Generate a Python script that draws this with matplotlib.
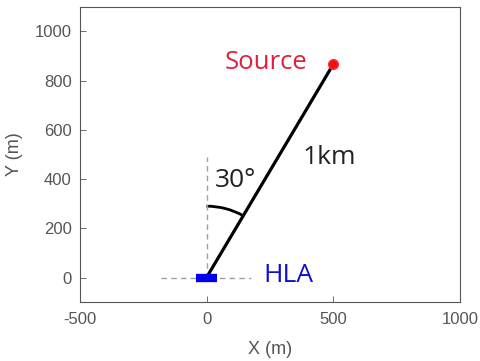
import matplotlib.pyplot as plt
import numpy as np
from matplotlib.patches import Arc

# geometry of the source / array layout
source_range = 1000.0
source_angle_deg = 30.0
array_x = [-40, 40]
array_y = [0, 0]
guide_vx = [0, 0]
guide_vy = [0, 490]
guide_hx = [-180, 175]
guide_hy = [0, 0]
arc_radius = 290

x_ticks = [-500, 0, 500, 1000]
y_ticks = [0, 200, 400, 600, 800, 1000]

theta = np.deg2rad(source_angle_deg)
src_x = source_range * np.sin(theta)
src_y = source_range * np.cos(theta)

fig = plt.figure(figsize=(4.81, 3.61), dpi=100)
ax = fig.add_axes([0.166, 0.163, 0.790, 0.818])

tick_color = "#555555"
label_font = ["Liberation Sans", "DejaVu Sans"]
note_font = ["Open Sans", "DejaVu Sans"]

# dashed guides through the array
ax.plot(guide_vx, guide_vy, ls="--", color="#a0a0a0", lw=1.0, dashes=(4, 3))
ax.plot(guide_hx, guide_hy, ls="--", color="#a0a0a0", lw=1.0, dashes=(4, 3))

# source bearing line and angle arc
ax.plot([0, src_x], [0, src_y], color="black", lw=2.3, solid_capstyle="butt")
ax.add_patch(Arc((0, 0), 2 * arc_radius, 2 * arc_radius,
                 theta1=90 - source_angle_deg, theta2=90,
                 color="black", lw=2.0))

# horizontal line array
ax.plot(array_x, array_y, color="#0000ee", lw=6, solid_capstyle="butt")

# source position
ax.plot([src_x], [src_y], "o", color="#ee1111", ms=7, mec="#ff3333")

ax.text(234, 872, "Source", color="#e0203a", fontsize=18.5,
        family=note_font, ha="center", va="center")
ax.text(486, 488, "1km", color="#222222", fontsize=19,
        family=note_font, ha="center", va="center")
ax.text(115, 395, "30°", color="#222222", fontsize=19,
        family=note_font, ha="center", va="center")
ax.text(325, 8, "HLA", color="#1010cc", fontsize=19,
        family=note_font, ha="center", va="center")

ax.set_xlim(-500, 1000)
ax.set_ylim(-100, 1100)
ax.set_xticks(x_ticks)
ax.set_yticks(y_ticks)
ax.set_xticklabels([str(v) for v in x_ticks], family=label_font)
ax.set_yticklabels([str(v) for v in y_ticks], family=label_font)
ax.tick_params(direction="in", length=4, width=0.6, colors="#555555",
               labelcolor=tick_color, labelsize=12, pad=6,
               top=False, right=False)
ax.tick_params(axis="x", pad=7)
for side in ax.spines.values():
    side.set_color("#555555")
    side.set_linewidth(0.8)

ax.set_xlabel("X (m)", fontsize=13, color=tick_color, family=label_font,
              labelpad=10)
ax.set_ylabel("Y (m)", fontsize=13, color=tick_color, family=label_font,
              labelpad=8)

fig.savefig("out.png", dpi=100)
